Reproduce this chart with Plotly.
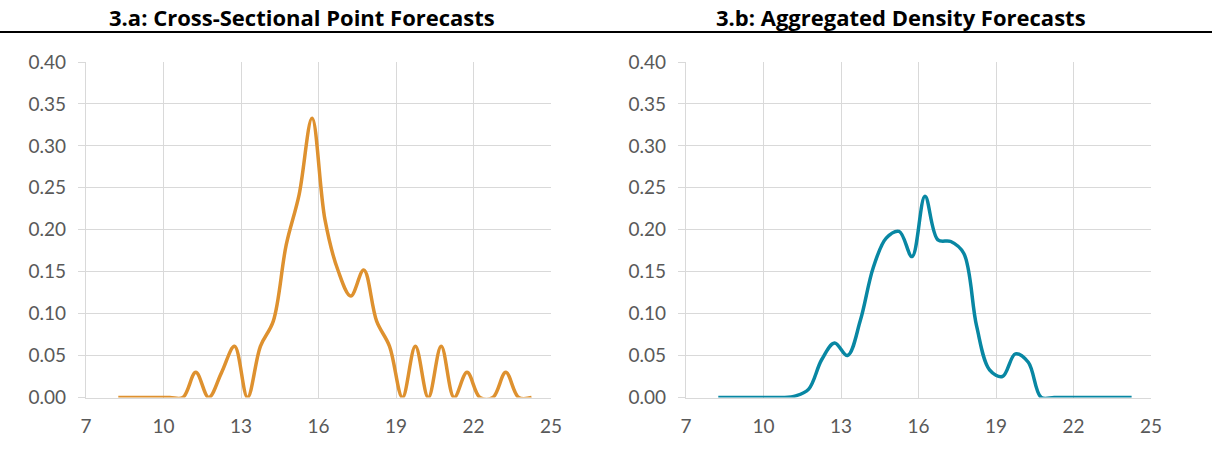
import plotly.graph_objects as go

# Shared horizontal grid (bin centres)
x_vals = [8.25, 8.75, 9.25, 9.75, 10.25, 10.75, 11.25, 11.75, 12.25, 12.75,
          13.25, 13.75, 14.25, 14.75, 15.25, 15.75, 16.25, 16.75, 17.25, 17.75,
          18.25, 18.75, 19.25, 19.75, 20.25, 20.75, 21.25, 21.75, 22.25, 22.75,
          23.25, 23.75, 24.25]

# 3.a Cross-sectional point forecasts (density of point forecasts)
point_forecasts = [0.0, 0.0, 0.0, 0.0, 0.0, 0.0, 0.030, 0.0, 0.030, 0.061,
                   0.0, 0.061, 0.091, 0.182, 0.242, 0.333, 0.212, 0.152, 0.121, 0.152,
                   0.091, 0.061, 0.0, 0.061, 0.0, 0.061, 0.0, 0.030, 0.0, 0.0,
                   0.030, 0.0, 0.0]

# 3.b Aggregated density forecasts
density_forecasts = [0.0, 0.0, 0.0, 0.0, 0.0, 0.0, 0.002, 0.010, 0.045, 0.065,
                     0.050, 0.092, 0.155, 0.190, 0.198, 0.168, 0.240, 0.188, 0.186, 0.172,
                     0.085, 0.033, 0.025, 0.052, 0.042, 0.0, 0.0, 0.0, 0.0, 0.0,
                     0.0, 0.0, 0.0]

x_ticks = [7, 10, 13, 16, 19, 22, 25]
y_ticks = [0.0, 0.05, 0.10, 0.15, 0.20, 0.25, 0.30, 0.35, 0.40]
titles = ["3.a: Cross-Sectional Point Forecasts", "3.b: Aggregated Density Forecasts"]

ORANGE = "#DE912F"
TEAL = "#0887A3"
GRID = "#D9D9D9"
TICKC = "#595959"
TICKFONT = "Lato, Carlito, Calibri, sans-serif"
TITLEFONT = "Open Sans, sans-serif"

W, H = 1212, 450

def px_x(p):
    return p / W

def px_y(p):
    return (H - p) / H

fig = go.Figure()

fig.add_trace(go.Scatter(x=x_vals, y=point_forecasts, mode="lines",
                         line=dict(color=ORANGE, width=3.5, shape="spline", smoothing=1.0),
                         xaxis="x", yaxis="y", showlegend=False, hoverinfo="x+y"))
fig.add_trace(go.Scatter(x=x_vals, y=density_forecasts, mode="lines",
                         line=dict(color=TEAL, width=3.5, shape="spline", smoothing=1.0),
                         xaxis="x2", yaxis="y2", showlegend=False, hoverinfo="x+y"))

ydom = [px_y(397.5), px_y(62)]
xdoms = [[px_x(86), px_x(551)], [px_x(686), px_x(1151)]]

def xaxis_cfg(dom, anchor):
    return dict(domain=dom, anchor=anchor, range=[7, 25], tickvals=x_ticks,
                ticktext=[str(v) for v in x_ticks], showgrid=True, gridcolor=GRID,
                gridwidth=1.3, showline=True, linecolor=GRID, linewidth=1.3,
                zeroline=False, ticks="", ticklabelstandoff=12,
                tickfont=dict(family=TICKFONT, size=19, color=TICKC), automargin=False,
                fixedrange=True)

def yaxis_cfg(anchor):
    return dict(domain=ydom, anchor=anchor, range=[0, 0.4], tickvals=y_ticks,
                ticktext=[f"{v:.2f}" for v in y_ticks], showgrid=True, gridcolor=GRID,
                gridwidth=1.3, showline=True, linecolor=GRID, linewidth=1.3,
                zeroline=False, ticks="outside", ticklen=7, tickcolor=GRID, tickwidth=1.3,
                ticklabelstandoff=8,
                tickfont=dict(family=TICKFONT, size=19, color=TICKC), automargin=False,
                fixedrange=True)

fig.update_layout(
    width=W, height=H,
    margin=dict(l=0, r=0, t=0, b=0),
    paper_bgcolor="white", plot_bgcolor="white",
    xaxis=xaxis_cfg(xdoms[0], "y"),
    yaxis=yaxis_cfg("x"),
    xaxis2=xaxis_cfg(xdoms[1], "y2"),
    yaxis2=yaxis_cfg("x2"),
)

centers = [px_x(301.5), px_x(901)]
for t, cx in zip(titles, centers):
    fig.add_annotation(text=f"<b>{t}</b>", x=cx, y=px_y(17), xref="paper", yref="paper",
                       showarrow=False, xanchor="center", yanchor="middle",
                       font=dict(family=TITLEFONT, size=22, color="black"))

fig.add_shape(type="line", xref="paper", yref="paper", x0=0, x1=1,
              y0=px_y(32), y1=px_y(32), line=dict(color="black", width=2))

fig.write_html("out.html", config={"displayModeBar": False},
               post_script="document.body.style.margin='0px';document.body.style.padding='0px';")
